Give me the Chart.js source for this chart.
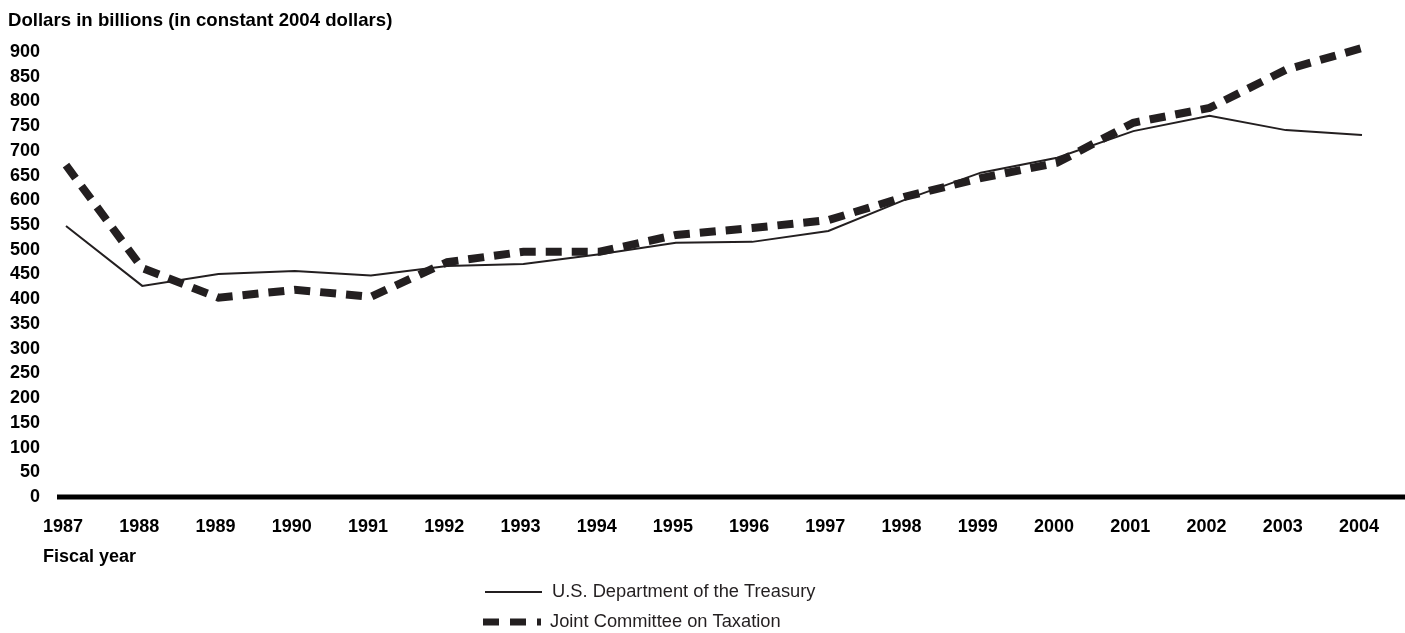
<!DOCTYPE html>
<html>
<head>
<meta charset="utf-8">
<script src="https://cdn.jsdelivr.net/npm/chart.js@4"></script>
<style>
  html, body { margin: 0; padding: 0; background: #fff; }
  #wrap { width: 1405px; height: 633px; position: relative; }
</style>
</head>
<body>
<div id="wrap"><canvas id="chart" width="1405" height="633"></canvas></div>
<script>
const years = ["1987", "1988", "1989", "1990", "1991", "1992", "1993", "1994", "1995",
  "1996", "1997", "1998", "1999", "2000", "2001", "2002", "2003", "2004"];
const treasury = [548, 427, 451, 457, 448, 467, 471, 491, 514, 516, 538, 601, 656, 686, 740, 771, 742, 732];
const jct = [671, 463, 403, 419, 405, 475, 496, 496, 530, 544, 560, 607, 645, 676, 757, 787, 864, 908];
const yTicks = [0, 50, 100, 150, 200, 250, 300, 350, 400, 450, 500, 550, 600, 650, 700, 750, 800, 850, 900];

const ink = "#231f20";
const fontFamily = "'Liberation Sans', Arial, Helvetica, sans-serif";

// titles, zero line and legend drawn by hand
const extras = {
  id: "extras",
  beforeDatasetsDraw(chart) {
    const { ctx } = chart;
    const y0 = chart.scales.y.getPixelForValue(0);
    ctx.save();
    ctx.strokeStyle = "#000";
    ctx.lineWidth = 5;
    ctx.beginPath();
    ctx.moveTo(57, y0);
    ctx.lineTo(1405, y0);
    ctx.stroke();
    ctx.restore();
  },
  afterDraw(chart) {
    const { ctx } = chart;
    ctx.save();
    ctx.fillStyle = "#000";
    ctx.textBaseline = "middle";
    ctx.textAlign = "left";
    ctx.font = "bold 18.6px " + fontFamily;
    ctx.fillText("Dollars in billions (in constant 2004 dollars)", 8, 21);
    ctx.font = "bold 18px " + fontFamily;
    ctx.fillText("Fiscal year", 43, 557);

    ctx.strokeStyle = ink;
    ctx.lineWidth = 2;
    ctx.beginPath();
    ctx.moveTo(485, 592);
    ctx.lineTo(542, 592);
    ctx.stroke();

    ctx.lineWidth = 7;
    ctx.setLineDash([16, 11]);
    ctx.beginPath();
    ctx.moveTo(483, 622);
    ctx.lineTo(541, 622);
    ctx.stroke();
    ctx.setLineDash([]);

    ctx.fillStyle = ink;
    ctx.font = "18.3px " + fontFamily;
    ctx.fillText(chart.data.datasets[0].label, 552, 592);
    ctx.fillText(chart.data.datasets[1].label, 550, 622);
    ctx.restore();
  }
};

new Chart(document.getElementById("chart"), {
  type: "line",
  data: {
    labels: years,
    datasets: [
      {
        label: "U.S. Department of the Treasury",
        data: treasury,
        borderColor: ink,
        borderWidth: 2,
        pointRadius: 0,
        tension: 0,
        fill: false,
        clip: false
      },
      {
        label: "Joint Committee on Taxation",
        data: jct,
        borderColor: ink,
        borderWidth: 8,
        borderDash: [16, 10],
        pointRadius: 0,
        tension: 0,
        fill: false,
        clip: false
      }
    ]
  },
  options: {
    responsive: false,
    animation: false,
    layout: { padding: { top: 52, right: 43, left: 0, bottom: 0 } },
    plugins: {
      legend: { display: false },
      title: { display: false },
      tooltip: { enabled: false }
    },
    scales: {
      x: {
        offset: false,
        grid: { display: false, drawTicks: false },
        border: { display: false },
        ticks: {
          color: "#000",
          font: { family: fontFamily, size: 18, weight: "bold" },
          padding: 19,
          labelOffset: -3,
          maxRotation: 0,
          autoSkip: false
        },
        afterFit(scale) { scale.height = 136; }
      },
      y: {
        min: 0,
        max: 900,
        grid: { display: false, drawTicks: false },
        border: { display: false },
        afterBuildTicks(scale) { scale.ticks = yTicks.map(v => ({ value: v })); },
        ticks: {
          color: "#000",
          font: { family: fontFamily, size: 18, weight: "bold" },
          padding: 26
        },
        afterFit(scale) { scale.width = 66; }
      }
    }
  },
  plugins: [extras]
});
</script>
</body>
</html>
